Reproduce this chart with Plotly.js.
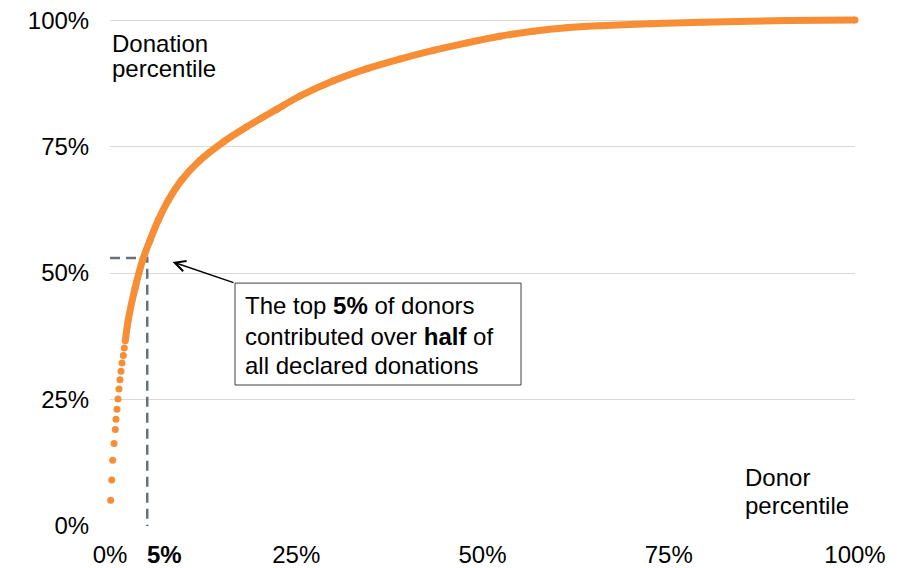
<!DOCTYPE html>
<html>
<head>
<meta charset="utf-8">
<script src="https://cdn.plot.ly/plotly-3.0.1.min.js"></script>
<style>html,body{margin:0;padding:0;background:#fff;}#chart{width:904px;height:568px;}</style>
</head>
<body>
<div id="chart"></div>
<script>
// Individual donors at the low end of the curve (donor percentile %, donation percentile %)
const dotDonorPct = [0.09, 0.23, 0.36, 0.54, 0.71, 0.80, 0.94, 1.07, 1.20, 1.34, 1.48, 1.61, 1.79, 1.92];
const dotDonationPct = [5.1, 9.1, 13.0, 16.3, 19.1, 21.1, 23.1, 25.1, 27.1, 28.9, 30.6, 32.2, 33.7, 35.2];

// Dense part of the cumulative curve
const curveDonorPct = [2.05, 2.46, 3.36, 4.39, 5.37, 6.49, 7.83, 9.62, 12.08, 15.2, 18.35, 22.4, 25.5, 30.0, 34.5, 38.9, 43.4, 47.9, 52.3, 56.8, 61.3, 65.8, 72.5, 79.6, 90.8, 100];
const curveDonationPct = [36.6, 40.8, 47.0, 52.6, 56.5, 60.5, 64.4, 68.4, 72.3, 75.9, 78.9, 82.4, 85.0, 88.0, 90.4, 92.3, 94.0, 95.5, 96.8, 97.8, 98.5, 98.9, 99.3, 99.6, 99.9, 100];

// Cut-off marker: top 5% of donors -> ~53% of donations
const cutoffDonorPct = 5;
const cutoffDonationPct = 53;

const tickVals = [0, 25, 50, 75, 100];
const tickText = ['0%', '25%', '50%', '75%', '100%'];

const orange = '#F78D35';
const font = 'Liberation Sans, Arial, Helvetica, sans-serif';

const traces = [
  {
    x: [0, cutoffDonorPct, cutoffDonorPct],
    y: [cutoffDonationPct, cutoffDonationPct, 0],
    mode: 'lines',
    line: {color: '#67707B', width: 2.5, dash: '10px,6px'},
    hoverinfo: 'skip',
    showlegend: false
  },
  {
    x: dotDonorPct,
    y: dotDonationPct,
    mode: 'markers',
    marker: {color: orange, size: 7},
    cliponaxis: false,
    showlegend: false
  },
  {
    x: curveDonorPct,
    y: curveDonationPct,
    mode: 'lines+markers',
    line: {color: orange, width: 7, shape: 'spline', smoothing: 1},
    marker: {color: orange, size: 7},
    cliponaxis: false,
    showlegend: false
  }
];

function label(text, x, y, opts) {
  return Object.assign({
    text: text, x: x, y: y, xref: 'x', yref: 'y',
    xanchor: 'left', yanchor: 'middle', showarrow: false,
    font: {family: font, size: 24, color: '#000'}
  }, opts || {});
}

const layout = {
  width: 904,
  height: 568,
  margin: {l: 110, r: 49, t: 9.88, b: 42, pad: 0},
  paper_bgcolor: '#fff',
  plot_bgcolor: '#fff',
  showlegend: false,
  font: {family: font, size: 24, color: '#000'},
  xaxis: {
    range: [0, 100],
    tickvals: tickVals,
    ticktext: tickText,
    showgrid: false,
    zeroline: false,
    showline: false,
    ticks: 'outside',
    ticklen: 7,
    tickcolor: 'rgba(0,0,0,0)',
    tickfont: {family: font, size: 24, color: '#000'}
  },
  yaxis: {
    range: [0, 102],
    tickvals: tickVals,
    ticktext: tickText,
    showgrid: true,
    gridcolor: '#D9D9D9',
    gridwidth: 1,
    zeroline: false,
    showline: false,
    ticks: 'outside',
    ticklen: 15,
    tickcolor: 'rgba(0,0,0,0)',
    tickfont: {family: font, size: 24, color: '#000'}
  },
  shapes: [
    {type: 'rect', xref: 'x', yref: 'y', x0: 16.78, x1: 55.17, y0: 27.87, y1: 48.02,
     line: {color: '#404040', width: 1}, fillcolor: '#fff', layer: 'above'}
  ],
  annotations: [
    label('Donation', 0, 95.3),
    label('percentile', 0, 90.5),
    label('Donor', 85.0, 9.5),
    label('percentile', 85.0, 4.15),
    label('The top <b>5%</b> of donors', 17.9, 43.5),
    label('contributed over <b>half</b> of', 17.9, 37.5),
    label('all declared donations', 17.9, 31.8),
    label('<b>5%</b>', 4.7, -0.056, {yref: 'paper'}),
    {
      x: 8.4, y: 52.2, xref: 'x', yref: 'y',
      ax: 16.78, ay: 48.02, axref: 'x', ayref: 'y',
      text: '', showarrow: true,
      arrowhead: 5, arrowsize: 1.5, arrowwidth: 1.4, arrowcolor: '#000',
      standoff: 0, startstandoff: 0
    }
  ]
};

Plotly.newPlot('chart', traces, layout, {displayModeBar: false, staticPlot: true});
</script>
</body>
</html>
